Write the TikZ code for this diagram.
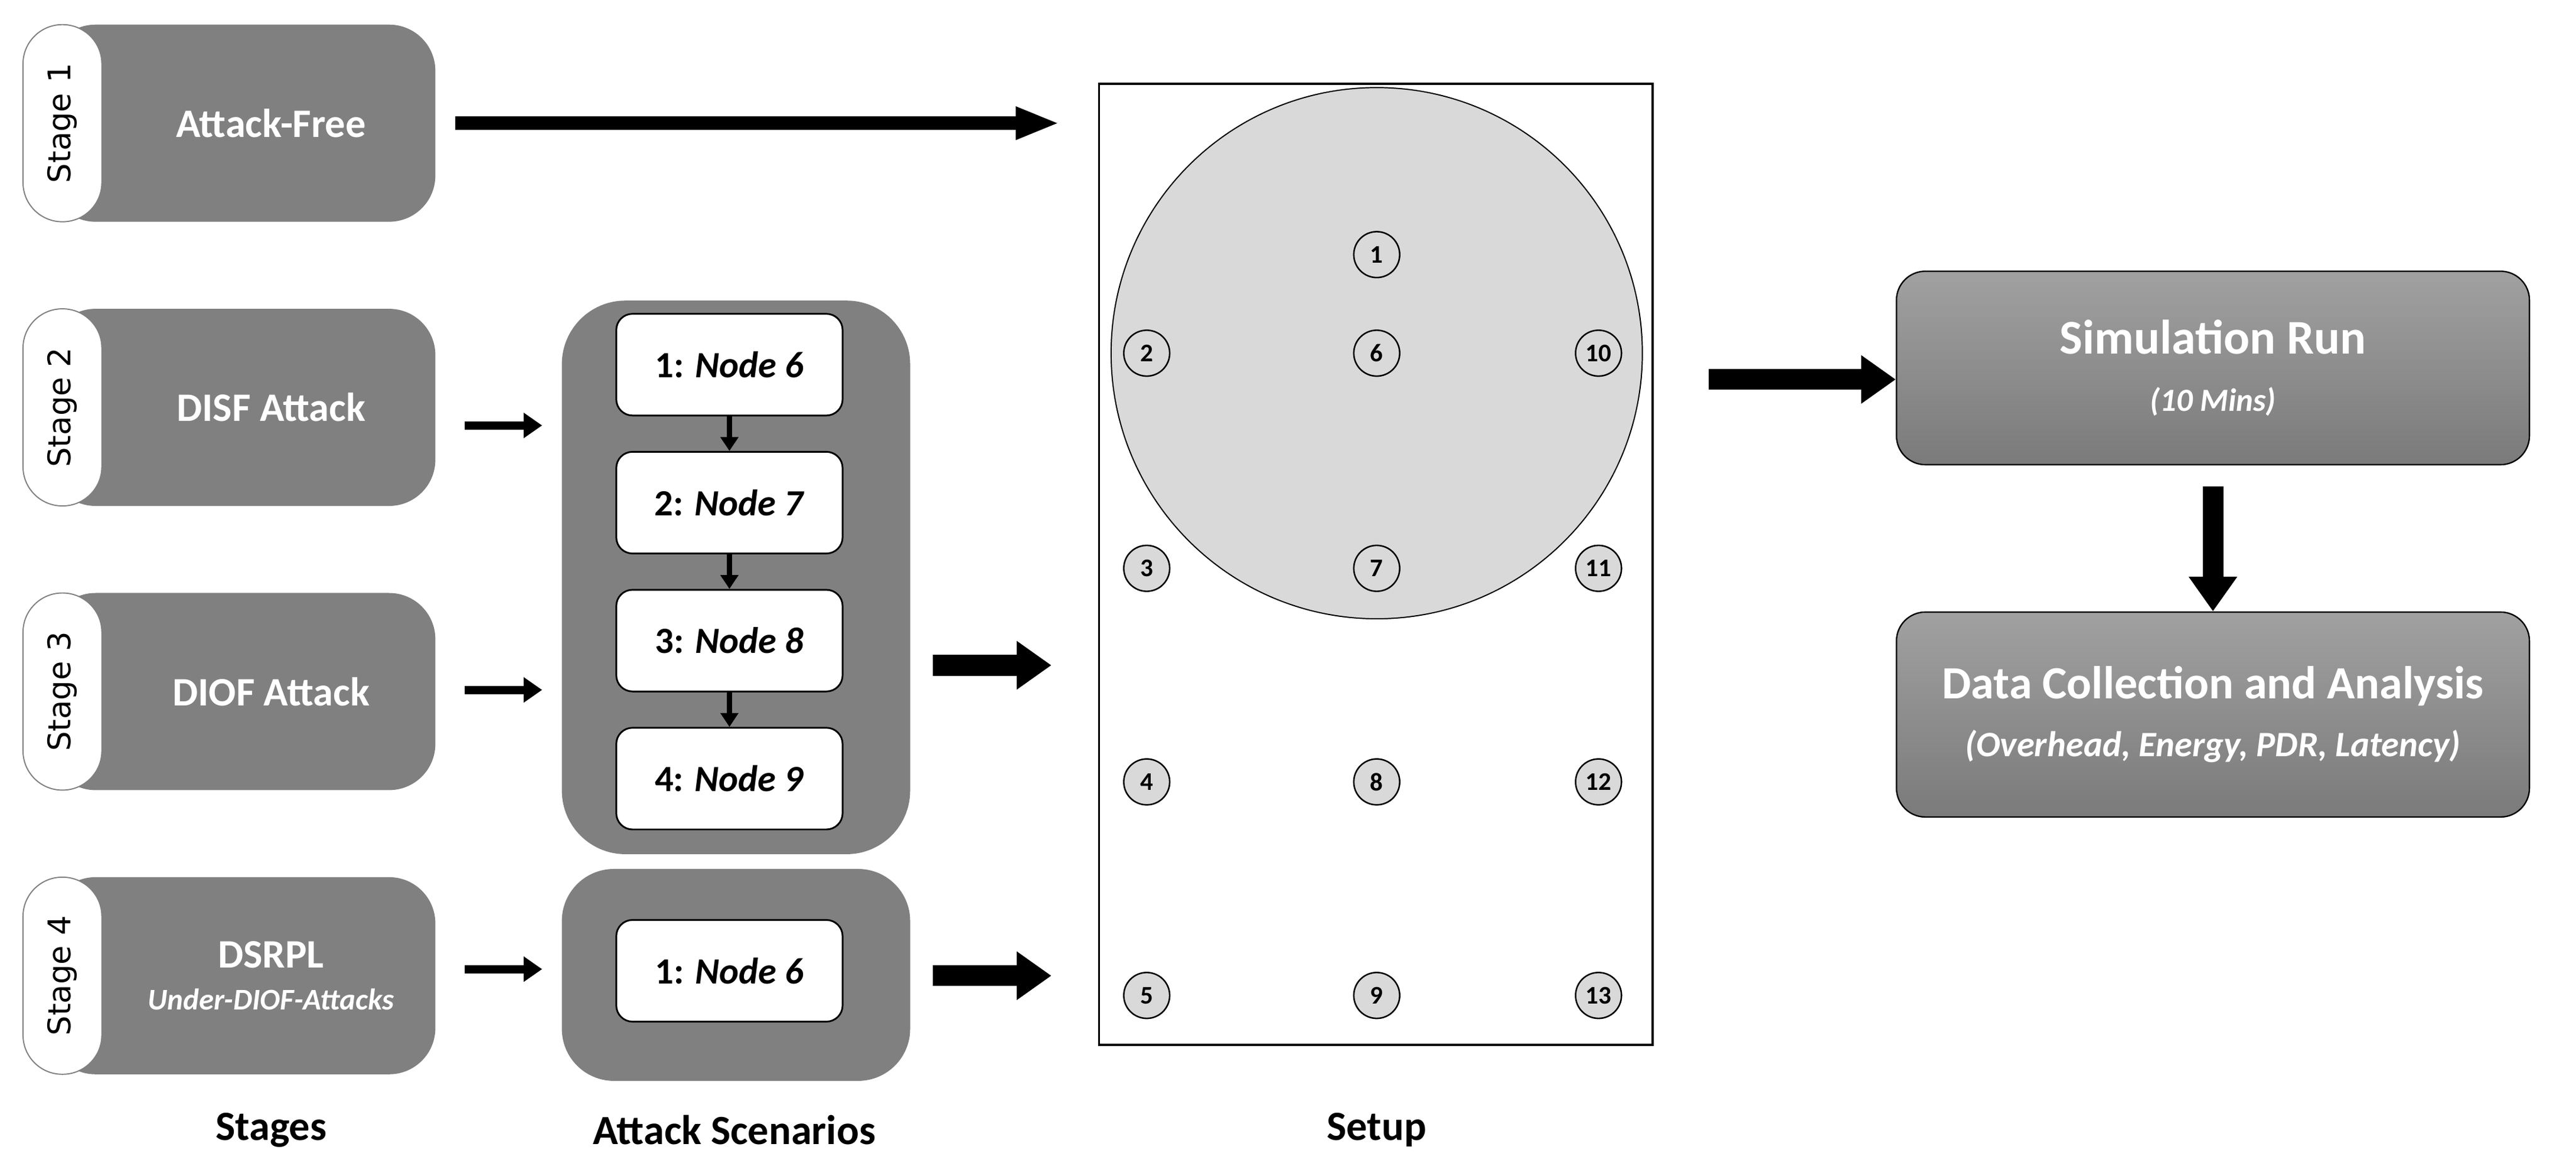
\documentclass[tikz,border=0pt]{standalone}
\usepackage{fontspec}
\setmainfont{Carlito}
\newfontfamily\tabfont{DejaVu Sans}
\usetikzlibrary{arrows.meta,shapes.geometric}
\definecolor{dg}{HTML}{808080}
\definecolor{lg}{HTML}{D9D9D9}
\begin{document}
\begin{tikzpicture}[x=0.05cm,y=-0.05cm,
 stagebox/.style={fill=dg,rounded corners=40pt,draw=none},
 lbl/.style={text=white,font=\fontsize{35}{40}\selectfont\bfseries,align=center},
 scen/.style={fill=white,draw=black,line width=1.5pt,rounded corners=14pt,minimum width=138*1.42pt,minimum height=62*1.42pt,font=\fontsize{32}{38}\selectfont\bfseries},
 nd/.style={circle,fill=lg,draw=black,line width=1.3pt,minimum size=28*1.42pt,inner sep=0pt,font=\fontsize{22}{24}\selectfont\bfseries},
 rbox/.style={draw=black,line width=1.2pt,rounded corners=25pt,top color=black!37,bottom color=black!52,minimum width=386*1.42pt,text=white,align=center,font=\fontsize{40}{50}\selectfont},
 arA/.style={line width=12pt,-{Triangle[length=38pt,width=26pt]}},
 arS/.style={line width=7pt,-{Triangle[length=16pt,width=21pt]}},
 arB/.style={line width=18pt,-{Triangle[length=30pt,width=40pt]}},
 arT/.style={line width=5pt,-{Triangle[length=12pt,width=15pt]}},
 bot/.style={font=\fontsize{36}{40}\selectfont\bfseries}]
\useasboundingbox (0,0) rectangle (1568,714);
% stages
\foreach \i/\yt in {1/15,2/188,3/361,4/534}{
 \fill[stagebox] (30,\yt) rectangle (265,\yt+120);
 \filldraw[fill=white,draw=dg,line width=1pt,rounded corners=34pt] (14,\yt) rectangle (62,\yt+120);
 \node[rotate=90,font=\tabfont\fontsize{27}{30}\selectfont] (t\i) at (38,\yt+60) {Stage \i};
}
\node[lbl] (s1) at (165,75) {Attack-Free};
\node[lbl] (s2) at (165,248) {DISF Attack};
\node[lbl] (s3) at (165,421) {DIOF Attack};
\node[lbl] (s4) at (165,594) {DSRPL\\[-4pt]{\fontsize{26}{30}\selectfont\itshape Under-DIOF-Attacks}};
% scenario containers
\fill[dg,rounded corners=55pt] (342,183) rectangle (554,520);
\fill[dg,rounded corners=45pt] (342,529) rectangle (554,658);
\node[scen] (a1) at (444,222) {1: \textit{Node 6}};
\node[scen] (a2) at (444,306) {2: \textit{Node 7}};
\node[scen] (a3) at (444,390) {3: \textit{Node 8}};
\node[scen] (a4) at (444,474) {4: \textit{Node 9}};
\node[scen] (b1) at (444,591) {1: \textit{Node 6}};
\draw[arT] (a1) -- (a2);
\draw[arT] (a2) -- (a3);
\draw[arT] (a3) -- (a4);
% setup
\draw[line width=2pt] (669,51) rectangle (1006,636);
\node[circle,fill=lg,draw=black,line width=1pt,minimum size=324*1.42pt] (circ) at (838,215) {};
\node[nd] (n1) at (838,155) {1};
\foreach \a/\b/\c/\y in {2/6/10/215,3/7/11/346,4/8/12/476,5/9/13/606}{
 \node[nd] (n\a) at (698,\y) {\a};
 \node[nd] (n\b) at (838,\y) {\b};
 \node[nd] (n\c) at (973,\y) {\c};
}
% arrows
\coordinate (e1) at (645,75);
\draw[arA] (s1.east -| 277,75) -- (e1);
\coordinate (c2) at (330,259); \coordinate (c3) at (330,420); \coordinate (c4) at (330,590);
\coordinate (d2) at (283,259); \coordinate (d3) at (283,420); \coordinate (d4) at (283,590);
\draw[arS] (d2) -- (c2);
\draw[arS] (d3) -- (c3);
\draw[arS] (d4) -- (c4);
\coordinate (f1) at (568,405); \coordinate (g1) at (640,405);
\coordinate (f2) at (568,594); \coordinate (g2) at (640,594);
\draw[arB] (f1) -- (g1);
\draw[arB] (f2) -- (g2);
% right
\node[rbox,minimum height=118*1.42pt] (sim) at (1347,224) {{\fontsize{42}{50}\selectfont\bfseries Simulation Run}\\{\fontsize{28}{36}\selectfont\bfseries\itshape (10 Mins)}};
\node[rbox,minimum height=125*1.42pt] (dat) at (1347,435) {{\fontsize{40}{50}\selectfont\bfseries Data Collection and Analysis}\\{\fontsize{31}{40}\selectfont\bfseries\itshape (Overhead, Energy, PDR, Latency)}};
\coordinate (h1) at (1040,231);
\draw[arB] (h1) -- (sim.west |- 0,231);
\draw[arB] (sim.south |- 0,296) -- (dat.north);
% bottom labels
\node[bot] (l1) at (165,688) {Stages};
\node[bot] (l2) at (447,688) {Attack Scenarios};
\node[bot] (l3) at (838,688) {Setup};
\end{tikzpicture}
\end{document}
